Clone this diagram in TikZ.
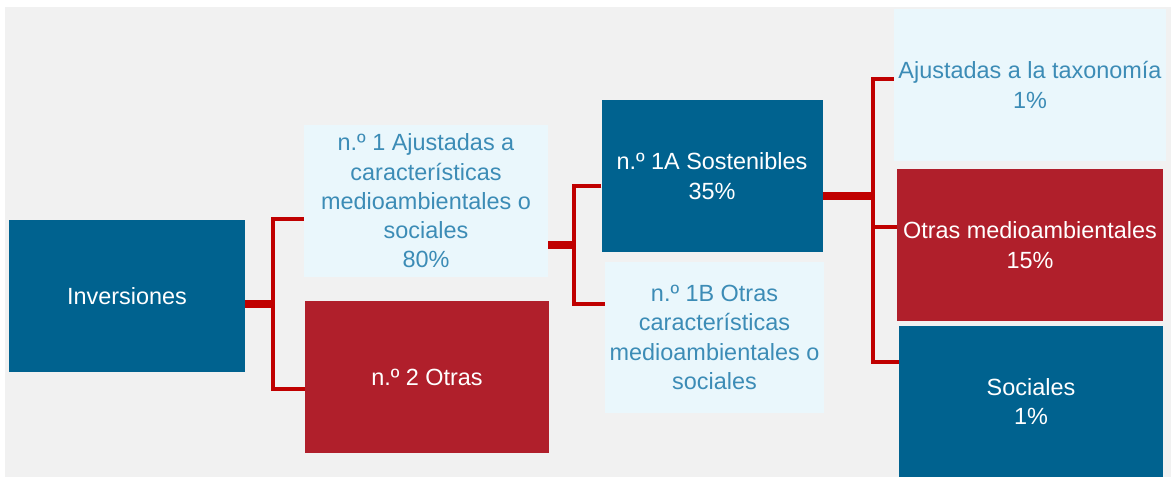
\documentclass[tikz,border=0pt]{standalone}
\usepackage{fontspec}
\setmainfont{Liberation Sans}
\usetikzlibrary{
  positioning,
  calc
}
\definecolor{invblue}{HTML}{00628F}
\definecolor{invred}{HTML}{B01F2B}
\definecolor{lightbox}{HTML}{EAF7FC}
\definecolor{lighttext}{HTML}{3C8CB6}
\definecolor{linkred}{HTML}{C00000}
\definecolor{backgr}{HTML}{F1F1F1}

\begin{document}
\begin{tikzpicture}[x = 0.03cm, y = -0.03cm,
    box/.style = {rectangle, inner sep = 0pt, align = center,
      minimum width = #1, minimum height = 4.56cm,
      font = \fontsize{20}{25}\selectfont},
    darkbox/.style = {box = #1, fill = invblue, text = white},
    redbox/.style = {box = #1, fill = invred, text = white},
    palebox/.style = {box = #1, fill = lightbox, text = lighttext},
    trunk/.style = {draw = linkred, line width = 7.5pt},
    branch/.style = {draw = linkred, line width = 3pt}]
    \useasboundingbox (0,0) rectangle (1171,477);
    \fill[backgr] (5,7) rectangle (1171,477);

    \node[darkbox = 7.08cm] (inv) at (127,296) {Inversiones};
    \node[palebox = 7.32cm] (n1) at (426,201)
      {n.º 1 Ajustadas a\\características\\medioambientales o\\sociales\\80\%};
    \node[redbox = 7.32cm] (n2) at (427,377) {n.º 2 Otras};
    \node[darkbox = 6.63cm] (s1a) at (712,176) {n.º 1A Sostenibles\\35\%};
    \node[palebox = 6.57cm, minimum height = 4.53cm] (s1b) at (714.5,337.5)
      {n.º 1B Otras\\características\\medioambientales o\\sociales};
    \node[palebox = 8.16cm] (tax) at (1030,85) {Ajustadas a la taxonomía\\1\%};
    \node[redbox = 7.98cm] (otr) at (1030,245) {Otras medioambientales\\15\%};
    \node[darkbox = 7.92cm, minimum height = 4.53cm] (soc) at (1031,401.5)
      {Sociales\\1\%};

    \coordinate (j1) at (273,304);
    \coordinate (j2) at (574,245);
    \coordinate (j3) at (873,196);

    \draw[trunk] (inv.east |- j1) -- (j1);
    \draw[branch] (n1.west |- 0,219) -| (j1) |- (n2.west |- 0,389);

    \draw[trunk] (n1.east |- j2) -- (j2);
    \draw[branch] (s1a.west |- 0,186) -| (j2) |- (s1b.west |- 0,304);

    \draw[trunk] (s1a.east |- j3) -- (j3);
    \draw[branch] (tax.west |- 0,79) -| (j3) |- (soc.west |- 0,362);
    \draw[branch] (j3 |- 0,227) -- (otr.west |- 0,227);
  \end{tikzpicture}
\end{document}
